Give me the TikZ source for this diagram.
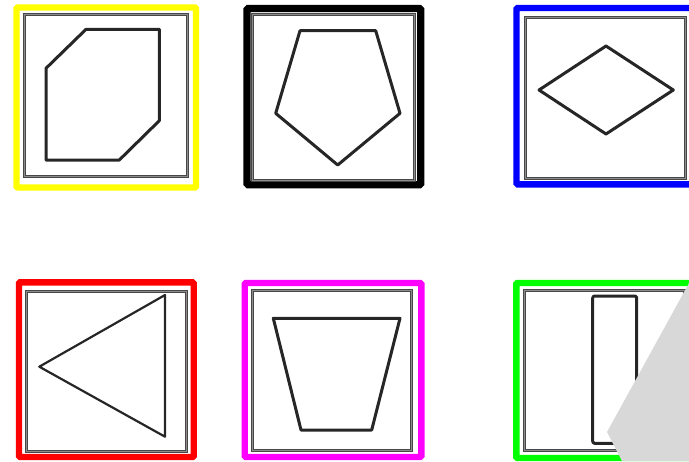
\documentclass[tikz,border=0pt]{standalone}
\definecolor{pureyellow}{RGB}{255,255,0}
\definecolor{puregreen}{RGB}{0,255,0}
\definecolor{pureblue}{RGB}{0,0,255}
\definecolor{puremagenta}{RGB}{255,0,255}
\definecolor{puregray}{RGB}{216,216,216}
\tikzset{
  frame/.style={line width=3.2pt,rounded corners=0.6pt},
  inner frame/.style={draw=black!72,line width=0.65pt,double=black!45,double distance=0.35pt},
  outline/.style={draw=black!85,line width=1.5pt,line join=round}
}
\begin{document}
\begin{tikzpicture}[x=0.5pt,y=-0.5pt]
  \useasboundingbox (0,0) rectangle (689,461);
  \clip (0,0) rectangle (689,461);
  % top row
  \draw[frame,pureyellow] (16.5,7.5) rectangle (196,187.5);
  \draw[inner frame] (24.2,14.8) rectangle (187.8,176.8);
  \draw[outline] (86,29.3) -- (159.3,29.3) -- (159.3,120.7) -- (119.3,160) -- (46,160) -- (46,68.3) -- cycle;
  \draw[frame,black,line width=3.6pt] (247,8.5) rectangle (420.7,184.8);
  \draw[inner frame] (252.2,14.2) rectangle (414.2,180.2);
  \draw[outline] (300,30.7) -- (375.7,30.7) -- (400,113.3) -- (337.7,165) -- (275.7,113.3) -- cycle;
  \draw[frame,pureblue] (516.5,8) rectangle (720,184.3);
  \draw[inner frame] (525.5,17.5) rectangle (685.2,178.5);
  \draw[outline] (606,46) -- (673.3,90) -- (606,134) -- (539,90) -- cycle;
  % bottom row
  \draw[frame,red] (19,282.3) rectangle (193.7,457);
  \draw[inner frame] (26.5,291.5) rectangle (186.2,451.2);
  \draw[outline,line width=1.1pt] (165,295) -- (165,436.7) -- (39.3,366.7) -- cycle;
  \draw[frame,puremagenta] (244.7,283) rectangle (421.3,457);
  \draw[inner frame] (252.2,290.8) rectangle (411.8,450.2);
  \draw[outline] (273.3,318.3) -- (400,318.3) -- (371.7,430) -- (301,430) -- cycle;
  \draw[frame,puregreen] (516.3,283) rectangle (720,458);
  \draw[inner frame] (524.2,290.8) rectangle (685,450.2);
  \draw[outline,rounded corners=1pt] (592.7,296) rectangle (636.7,443.3);
  \fill[puregray] (689,283) -- (607,432) -- (622,461) -- (689,461) -- cycle;
\end{tikzpicture}
\end{document}
